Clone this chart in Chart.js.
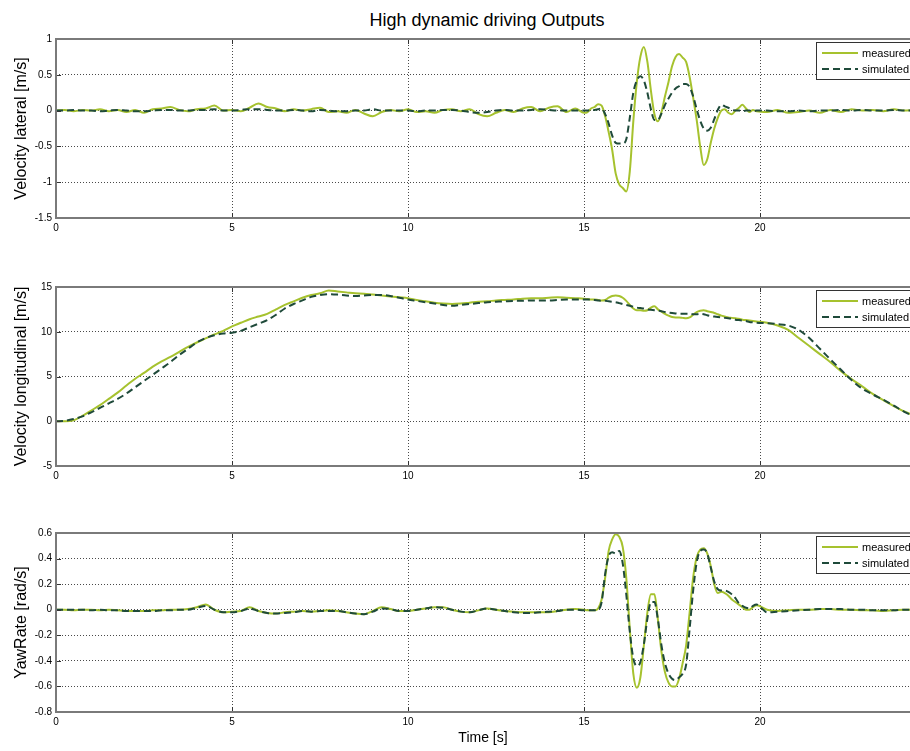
<!DOCTYPE html>
<html><head><meta charset="utf-8">
<script src="https://cdn.jsdelivr.net/npm/chart.js@4.4.1/dist/chart.umd.min.js"></script>
<style>
body{margin:0;background:#fff;width:910px;height:751px;overflow:hidden;position:relative;font-family:Arial,"Liberation Sans",sans-serif}
#title{position:absolute;left:0;width:974px;top:9px;line-height:22px;text-align:center;font-size:18px;color:#000}
canvas{position:absolute;left:0}
</style></head><body>
<div id="title">High dynamic driving Outputs</div>
<canvas id="c1" width="910" height="219" style="top:29px"></canvas>
<canvas id="c2" width="910" height="219" style="top:277px"></canvas>
<canvas id="c3" width="910" height="227" style="top:523px"></canvas>
<script>
// ---- time axis (s) ----
const time = [
  0,0.25,0.5,0.75, 1,1.25,1.5,1.75, 2,2.25,2.5,2.75, 3,3.25,3.5,3.75,
  4,4.25,4.5,4.75, 5,5.25,5.5,5.75, 6,6.25,6.5,6.75, 7,7.25,7.5,7.75,
  8,8.25,8.5,8.75, 9,9.25,9.5,9.75, 10,10.25,10.5,10.75, 11,11.25,11.5,11.75,
  12,12.25,12.5,12.75, 13,13.25,13.5,13.75, 14,14.25,14.5,14.75, 15,
  15.1,15.2,15.3,15.4,15.5,15.6,15.7,15.8,15.9,
  16,16.1,16.2,16.3,16.4,16.5,16.6,16.7,16.8,16.9,
  17,17.1,17.2,17.3,17.4,17.5,17.6,17.7,17.8,17.9,
  18,18.1,18.2,18.3,18.4,18.5,18.6,18.7,18.8,18.9,
  19,19.1,19.2,19.3,19.4,19.5,19.6,19.7,19.8,19.9,
  20.2,20.5,20.8,21.1,21.4,21.7,22.0,22.3,22.6,22.9,23.2,23.5,23.8,24.1,24.4
];
const timeTicks = [0,5,10,15,20];

// ---- Velocity lateral [m/s] ----
const latMeasured = [
  0,0.01,-0.01,0.01, 0,0.02,-0.01,0.01, -0.02,0.01,-0.03,0.02, 0.03,0.05,0.01,-0.01,
  0.02,0.03,0.07,0, 0.01,-0.01,0.04,0.10, 0.05,0.03,-0.01,0.02, 0,0.02,0.04,-0.02,
  -0.01,-0.03,0.01,-0.04, -0.08,-0.02,0.01,-0.01, 0.02,-0.02,-0.01,-0.03, 0.01,0.02,-0.01,0.02,
  -0.05,-0.08,-0.03,0.01, -0.02,0.03,0.05,-0.01, 0.04,0.06,-0.02,0.03, -0.03,
  -0.02,0.03,0.05,0.09,0.07,-0.08,-0.30,-0.55,-0.88,
  -1.03,-1.08,-1.13,-0.85,-0.15,0.40,0.75,0.89,0.68,0.28,
  -0.05,-0.15,-0.02,0.20,0.40,0.62,0.75,0.79,0.74,0.68,
  0.47,0.18,-0.13,-0.50,-0.76,-0.68,-0.45,-0.25,-0.10,0.00,
  0.02,-0.03,-0.05,0.00,0.04,0.08,0.03,-0.02,0.01,-0.01,
  -0.02,0.01,-0.03,-0.02,0,-0.03,0.01,-0.02,0.02,0,0.01,-0.01,0.02,0,0.01
];
const latSimulated = [
  0,0,0.01,0, 0,-0.01,0,0.01, 0,-0.01,-0.01,0, 0.01,0.01,0,0,
  0.01,0.01,0.02,0, 0,0.01,0.02,0.02, 0.01,0,0,0.01, 0,-0.01,0.01,0,
  -0.01,-0.01,0,0, 0.02,0,0,0, 0,-0.01,0,0, 0.01,0.01,0,-0.02,
  -0.03,-0.02,0,0.01, 0,0,0.01,0.02, 0.01,0,0,0, 0,
  0,0.01,0.01,0.02,0.03,-0.05,-0.18,-0.35,-0.45,
  -0.46,-0.46,-0.40,-0.10,0.25,0.42,0.48,0.42,0.25,0.02,
  -0.13,-0.13,-0.04,0.08,0.17,0.25,0.31,0.34,0.37,0.37,
  0.33,0.20,0.02,-0.14,-0.25,-0.28,-0.24,-0.12,0.01,0.08,
  0.06,0.04,0.02,0,0,-0.01,0,0,-0.01,0,
  0,-0.01,-0.01,0,-0.01,0,0,0.01,0,0.01,0,0,0.01,0,0
];
const latTicks = [-1.5,-1,-0.5,0,0.5,1];

// ---- Velocity longitudinal [m/s] ----
const lonMeasured = [
  0,0,0.1,0.6, 1.2,1.8,2.5,3.2, 4.0,4.75,5.4,6.1, 6.7,7.2,7.75,8.3,
  8.8,9.25,9.7,10.1, 10.6,11.0,11.4,11.7, 12.0,12.5,13.0,13.4, 13.8,14.1,14.3,14.6,
  14.5,14.4,14.3,14.25, 14.15,14.05,13.95,13.85, 13.75,13.55,13.4,13.25, 13.15,13.1,13.15,13.25,
  13.35,13.4,13.5,13.55, 13.6,13.7,13.75,13.75, 13.8,13.85,13.8,13.75, 13.7,
  13.65,13.6,13.6,13.55,13.5,13.55,13.8,14.0,14.05,
  14.0,13.8,13.45,13.0,12.6,12.4,12.4,12.35,12.4,12.7,
  12.85,12.5,12.25,12.0,11.8,11.65,11.6,11.6,11.55,11.5,
  11.6,11.9,12.2,12.35,12.4,12.3,12.2,12.1,11.95,11.8,
  11.7,11.6,11.55,11.5,11.45,11.35,11.3,11.25,11.2,11.15,
  11.0,10.7,10.2,9.3,8.4,7.5,6.6,5.6,4.7,3.9,3.05,2.35,1.7,1.1,0.6
];
const lonSimulated = [
  0,0.05,0.25,0.55, 1.0,1.5,2.0,2.5, 3.1,3.8,4.5,5.2, 5.9,6.6,7.4,8.1,
  8.8,9.3,9.6,9.8, 9.9,10.1,10.5,10.9, 11.3,11.9,12.6,13.1, 13.5,13.9,14.1,14.2,
  14.15,14.05,14.0,14.05, 14.1,14.1,14.0,13.8, 13.6,13.45,13.3,13.15, 13.0,12.9,13.0,13.1,
  13.2,13.3,13.35,13.4, 13.45,13.45,13.5,13.5, 13.5,13.55,13.6,13.6, 13.6,
  13.6,13.6,13.55,13.5,13.45,13.45,13.4,13.35,13.3,
  13.2,13.1,13.0,12.9,12.8,12.7,12.65,12.6,12.5,12.45,
  12.4,12.35,12.3,12.2,12.15,12.1,12.05,12.0,12.0,12.0,
  12.0,11.95,11.95,12.0,11.95,11.85,11.75,11.7,11.65,11.6,
  11.55,11.5,11.45,11.35,11.3,11.25,11.2,11.1,11.05,11.0,
  10.95,10.85,10.7,10.2,9.3,8.1,6.9,5.75,4.6,3.65,3.0,2.4,1.75,1.05,0.5
];
const lonTicks = [-5,0,5,10,15];

// ---- YawRate [rad/s] ----
const yawMeasured = [
  0,0,-0.005,0, 0,-0.005,0,-0.005, -0.01,-0.01,-0.01,-0.005, -0.005,0,0,0.005,
  0.02,0.04,0,-0.02, -0.015,-0.01,0.02,-0.01, -0.025,-0.03,-0.02,-0.015, -0.01,-0.015,-0.01,-0.005,
  -0.01,-0.02,-0.03,-0.035, -0.01,0.02,0.005,-0.01, -0.01,0,0.01,0.02, 0.02,0,-0.015,-0.02,
  -0.005,0.01,0,-0.01, -0.015,-0.02,-0.02,-0.02, -0.02,-0.01,0,0.005, 0,
  -0.005,-0.005,-0.005,0.01,0.08,0.25,0.46,0.55,0.59,
  0.57,0.49,0.25,-0.15,-0.50,-0.61,-0.53,-0.28,-0.02,0.12,
  0.12,-0.08,-0.33,-0.49,-0.57,-0.60,-0.60,-0.54,-0.42,-0.28,
  -0.02,0.25,0.41,0.47,0.48,0.44,0.34,0.20,0.13,0.14,
  0.13,0.11,0.08,0.06,0.04,0.02,0,0,0.02,0.035,
  0,-0.01,-0.005,0,0,0.005,0.005,0,0,-0.005,-0.005,-0.01,-0.005,0,0
];
const yawSimulated = [
  0,0,0,0, -0.005,0,-0.005,-0.005, -0.01,-0.01,-0.01,-0.01, -0.005,-0.005,0,0,
  0.015,0.03,0,-0.02, -0.02,-0.01,0.01,-0.01, -0.025,-0.03,-0.025,-0.02, -0.01,-0.015,-0.01,-0.01,
  -0.01,-0.02,-0.03,-0.035, -0.015,0.01,0.005,-0.01, -0.01,0,0.01,0.02, 0.015,0,-0.015,-0.02,
  -0.005,0.01,0,-0.01, -0.02,-0.025,-0.025,-0.02, -0.015,-0.01,0,0, -0.005,
  -0.005,-0.005,-0.005,0,0.06,0.28,0.42,0.45,0.44,
  0.46,0.36,0.12,-0.17,-0.38,-0.44,-0.41,-0.27,-0.07,0.06,
  0.06,-0.08,-0.28,-0.42,-0.50,-0.54,-0.55,-0.53,-0.50,-0.43,
  -0.15,0.15,0.37,0.46,0.47,0.44,0.33,0.22,0.16,0.15,
  0.15,0.14,0.12,0.09,0.05,0.03,0.015,0.01,0.03,0.04,
  -0.02,-0.015,-0.01,-0.005,0,0.005,0.005,0.005,0,0,-0.005,-0.005,-0.005,0,0
];
const yawTicks = [-0.8,-0.6,-0.4,-0.2,0,0.2,0.4,0.6];

// ---- styling ----
const FONT = 'Arial, "Liberation Sans", sans-serif';
const MEAS_COLOR = '#a6c22e';
const SIM_COLOR = '#1f4a3a';

const mlPlugin = {
  id: 'mlbox',
  afterDatasetsDraw(chart) {
    const {ctx, chartArea: a, scales: {x, y}} = chart;
    ctx.save();
    // inward tick marks
    ctx.strokeStyle = '#333'; ctx.lineWidth = 1; ctx.setLineDash([]);
    x.ticks.forEach(t => {
      const px = Math.round(x.getPixelForValue(t.value)) + 0.5;
      ctx.beginPath();
      ctx.moveTo(px, a.top); ctx.lineTo(px, a.top + 5);
      ctx.moveTo(px, a.bottom); ctx.lineTo(px, a.bottom - 5);
      ctx.stroke();
    });
    y.ticks.forEach(t => {
      const py = Math.round(y.getPixelForValue(t.value)) + 0.5;
      ctx.beginPath();
      ctx.moveTo(a.left, py); ctx.lineTo(a.left + 5, py);
      ctx.stroke();
    });
    // axes box
    ctx.strokeStyle = '#7a7a7a'; ctx.lineWidth = 2;
    ctx.strokeRect(a.left, a.top, a.right - a.left + 4, a.bottom - a.top);
    // legend
    const lx = 816, ly = a.top + 3, lh = 37;
    ctx.fillStyle = '#fff'; ctx.fillRect(lx, ly, 120, lh);
    ctx.strokeStyle = '#333'; ctx.lineWidth = 1;
    ctx.strokeRect(lx + 0.5, ly + 0.5, 120, lh);
    chart.data.datasets.forEach((ds, i) => {
      const ry = ly + 11 + i * 16;
      ctx.strokeStyle = ds.borderColor; ctx.lineWidth = 2;
      ctx.setLineDash(ds.borderDash || []);
      ctx.beginPath(); ctx.moveTo(822, ry); ctx.lineTo(858, ry); ctx.stroke();
      ctx.setLineDash([]);
      ctx.fillStyle = '#000'; ctx.font = '11px ' + FONT;
      ctx.textBaseline = 'middle'; ctx.textAlign = 'left';
      ctx.fillText(ds.label, 862, ry + 0.5);
    });
    ctx.restore();
  }
};

function makeChart(id, yTitle, yTicks, meas, sim, xHeight, showXTitle) {
  const toPts = arr => time.map((t, i) => ({x: t, y: arr[i]}));
  return new Chart(document.getElementById(id), {
    type: 'line',
    data: {
      datasets: [
        {label: 'measured', data: toPts(meas), borderColor: MEAS_COLOR, borderWidth: 2,
         pointRadius: 0, cubicInterpolationMode: 'monotone', order: 1},
        {label: 'simulated', data: toPts(sim), borderColor: SIM_COLOR, borderWidth: 2,
         borderDash: [7, 4], pointRadius: 0, cubicInterpolationMode: 'monotone', order: 0}
      ]
    },
    options: {
      responsive: false, animation: false, devicePixelRatio: 1,
      layout: {padding: {top: 10, left: 0, right: 0, bottom: 0}},
      plugins: {legend: {display: false}, tooltip: {enabled: false}, title: {display: false}},
      scales: {
        x: {
          type: 'linear', min: 0, max: 24.26,
          afterBuildTicks: s => { s.ticks = timeTicks.map(v => ({value: v})); },
          afterFit: s => { s.height = xHeight; s.paddingLeft = 0; s.paddingRight = 0; },
          ticks: {font: {size: 10, family: FONT}, color: '#000', padding: 4, maxRotation: 0,
                  callback: v => String(v)},
          grid: {color: '#4a4a4a', lineWidth: 1, drawTicks: false},
          border: {display: false, dash: [1, 2]},
          title: {display: showXTitle, text: 'Time [s]', color: '#000',
                  font: {size: 14, family: FONT}, padding: {top: 0, bottom: 3}}
        },
        y: {
          min: yTicks[0], max: yTicks[yTicks.length - 1],
          afterBuildTicks: s => { s.ticks = yTicks.map(v => ({value: v})); },
          afterFit: s => { s.width = 56; s.paddingTop = 0; s.paddingBottom = 0; },
          ticks: {font: {size: 10, family: FONT}, color: '#000', padding: 4,
                  callback: v => String(v)},
          grid: {color: '#4a4a4a', lineWidth: 1, drawTicks: false},
          border: {display: false, dash: [1, 2]},
          title: {display: true, text: yTitle, color: '#000',
                  font: {size: 16, family: FONT}, padding: {top: 12, bottom: 0}}
        }
      }
    },
    plugins: [mlPlugin]
  });
}

makeChart('c1', 'Velocity lateral [m/s]', latTicks, latMeasured, latSimulated, 30, false);
makeChart('c2', 'Velocity longitudinal [m/s]', lonTicks, lonMeasured, lonSimulated, 30, false);
makeChart('c3', 'YawRate [rad/s]', yawTicks, yawMeasured, yawSimulated, 38, true);
</script>
</body></html>
